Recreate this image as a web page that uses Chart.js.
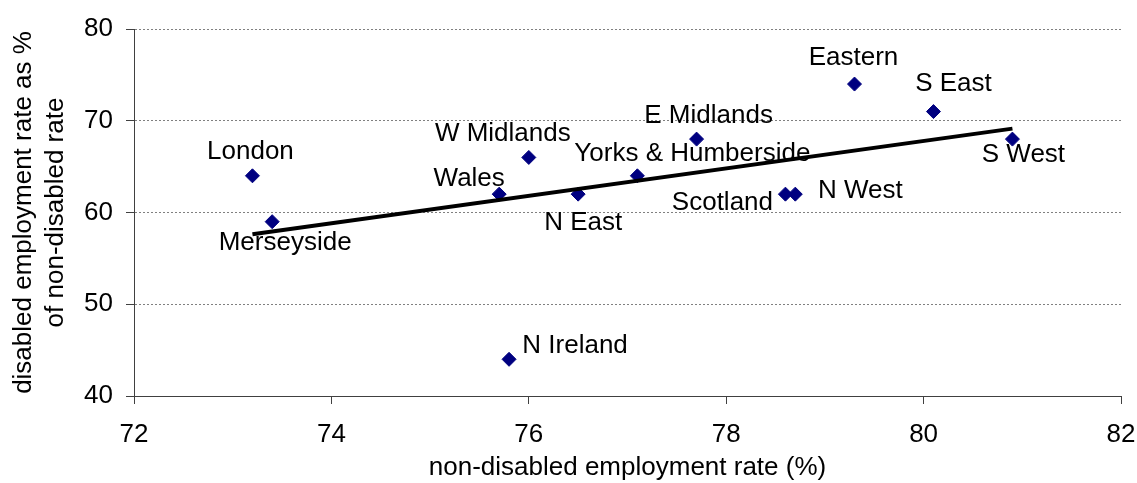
<!DOCTYPE html>
<html>
<head>
<meta charset="utf-8">
<script src="https://cdn.jsdelivr.net/npm/chart.js@4/dist/chart.umd.min.js"></script>
<style>
  html, body { margin: 0; padding: 0; background: #fff; }
  #wrap { width: 1137px; height: 483px; position: relative; }
</style>
</head>
<body>
<div id="wrap"><canvas id="employment-chart"></canvas></div>
<script>
const regions = ['London', 'Merseyside', 'Wales', 'W Midlands', 'N East', 'N Ireland',
                 'Yorks & Humberside', 'E Midlands', 'Scotland', 'N West', 'Eastern', 'S East', 'S West'];
const nonDisabledRate = [73.2, 73.4, 75.7, 76.0, 76.5, 75.8, 77.1, 77.7, 78.6, 78.7, 79.3, 80.1, 80.9];
const disabledRatio = [64, 59, 62, 66, 62, 44, 64, 68, 62, 62, 74, 71, 68];

const xTickValues = [72, 74, 76, 78, 80, 82];
const yTickValues = [40, 50, 60, 70, 80];

// where each region name sits relative to its marker (px)
const labelOffsets = {
  'London': [-2, -24],
  'Merseyside': [13, 21],
  'Wales': [-30, -15],
  'W Midlands': [-26, -24],
  'N East': [5, 29],
  'N Ireland': [66, -13],
  'Yorks & Humberside': [55, -22],
  'E Midlands': [12, -23],
  'Scotland': [-63, 9],
  'N West': [65, -3],
  'Eastern': [-1, -26],
  'S East': [20, -28],
  'S West': [11, 16]
};

const fontFamily = "'Liberation Sans', Arial, sans-serif";

// least squares line through the points, drawn between the smallest and largest x
function linearTrend(xs, ys){
  const n = xs.length;
  const mx = xs.reduce((a, b) => a + b, 0) / n;
  const my = ys.reduce((a, b) => a + b, 0) / n;
  let sxy = 0, sxx = 0;
  for(let i = 0; i < n; i++){
    sxy += (xs[i] - mx) * (ys[i] - my);
    sxx += (xs[i] - mx) * (xs[i] - mx);
  }
  const slope = sxy / sxx;
  const x0 = Math.min(...xs);
  const x1 = Math.max(...xs);
  return [
    {x: x0, y: my + slope * (x0 - mx)},
    {x: x1, y: my + slope * (x1 - mx)}
  ];
}

const points = regions.map((name, i) => ({x: nonDisabledRate[i], y: disabledRatio[i]}));

const regionLabels = {
  id: 'regionLabels',
  afterDatasetsDraw(chart){
    const meta = chart.getDatasetMeta(1);
    const ctx = chart.ctx;
    ctx.save();
    ctx.font = '26px ' + fontFamily;
    ctx.fillStyle = '#000';
    ctx.textAlign = 'center';
    ctx.textBaseline = 'middle';
    meta.data.forEach((pt, i) => {
      const off = labelOffsets[regions[i]] || [0, -24];
      ctx.fillText(regions[i], pt.x + off[0], pt.y + off[1]);
    });
    ctx.restore();
  }
};

new Chart(document.getElementById('employment-chart'), {
  type: 'scatter',
  data: {
    datasets: [
      {
        label: 'trend',
        type: 'line',
        data: linearTrend(nonDisabledRate, disabledRatio),
        borderColor: '#000',
        borderWidth: 4,
        pointRadius: 0,
        fill: false
      },
      {
        label: 'regions',
        data: points,
        pointStyle: 'rectRot',
        pointRadius: 7,
        pointBackgroundColor: '#000080',
        pointBorderColor: '#000080',
        pointBorderWidth: 1
      }
    ]
  },
  options: {
    responsive: true,
    maintainAspectRatio: false,
    animation: false,
    layout: { padding: { top: 29, right: 16, bottom: 0, left: 0 } },
    plugins: { legend: { display: false }, tooltip: { enabled: false } },
    scales: {
      x: {
        type: 'linear',
        min: 72,
        max: 82,
        afterBuildTicks: scale => { scale.ticks = xTickValues.map(v => ({value: v})); },
        afterFit: scale => {
          scale.height = 87;
          scale.paddingLeft = 0;
          scale.paddingRight = 0;
        },
        grid: { drawOnChartArea: false, drawTicks: true, tickLength: 8, tickColor: '#404040', tickWidth: 1 },
        border: { color: '#404040', width: 1 },
        ticks: { color: '#000', padding: 15, font: { family: fontFamily, size: 26 }, maxRotation: 0 },
        title: {
          display: true,
          text: 'non-disabled employment rate (%)',
          color: '#000',
          font: { family: fontFamily, size: 26, lineHeight: 1.2 },
          padding: { top: 0, bottom: 0 }
        }
      },
      y: {
        type: 'linear',
        min: 40,
        max: 80,
        afterBuildTicks: scale => { scale.ticks = yTickValues.map(v => ({value: v})); },
        afterFit: scale => {
          scale.width = 134;
          scale.paddingTop = 0;
          scale.paddingBottom = 0;
        },
        grid: { color: '#808080', lineWidth: 1, drawTicks: true, tickLength: 8, tickColor: '#404040', tickWidth: 1, tickBorderDash: [] },
        border: { color: '#404040', width: 1, dash: [2, 2] },
        ticks: { color: '#000', padding: 13, font: { family: fontFamily, size: 26 } },
        title: {
          display: true,
          text: ['disabled employment rate as %', 'of non-disabled rate'],
          color: '#000',
          font: { family: fontFamily, size: 26, lineHeight: 1.22 },
          padding: { top: 8, bottom: 0 }
        }
      }
    }
  },
  plugins: [regionLabels]
});
</script>
</body>
</html>
